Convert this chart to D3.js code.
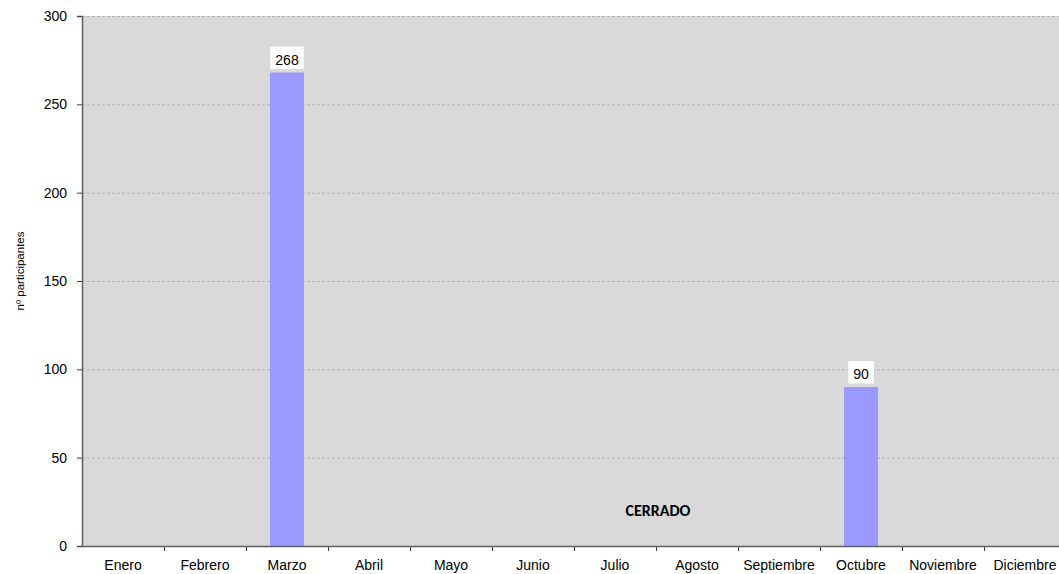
<!DOCTYPE html>
<html>
<head>
<meta charset="utf-8">
<script src="https://cdn.jsdelivr.net/npm/d3@7"></script>
<style>
  html, body { margin: 0; padding: 0; background: #fff; }
  svg { display: block; font-family: "Liberation Sans", Arial, sans-serif; }
</style>
</head>
<body>
<div id="chart"></div>
<script>
const months = ['Enero','Febrero','Marzo','Abril','Mayo','Junio','Julio','Agosto','Septiembre','Octubre','Noviembre','Diciembre'];
const participants = [null, null, 268, null, null, null, null, null, null, 90, null, null];
const yTicks = [0, 50, 100, 150, 200, 250, 300];
const yLabel = 'nº participantes';
const closedLabel = 'CERRADO';
const closedAt = 'Agosto';

const W = 1059, H = 574;
const PAD_L = 82, PAD_T = 16, PAD_B = 546;
const step = 82;
const FONT = '"Liberation Sans", Arial, sans-serif';

const svg = d3.select('#chart').append('svg')
  .attr('width', W).attr('height', H);

const x = d3.scaleBand()
  .domain(months)
  .range([PAD_L, PAD_L + step * months.length]);

const y = d3.scaleLinear().domain([0, 300]).range([PAD_B, PAD_T]);

// plot background
svg.append('rect')
  .attr('x', PAD_L).attr('y', PAD_T)
  .attr('width', W - PAD_L).attr('height', PAD_B - PAD_T)
  .attr('fill', '#d9d9d9');

// gridlines
svg.append('g').selectAll('line')
  .data(yTicks.filter(d => d > 0))
  .join('line')
  .attr('x1', PAD_L).attr('x2', W)
  .attr('y1', d => y(d) + 0.5).attr('y2', d => y(d) + 0.5)
  .attr('stroke', '#b4b4b4')
  .attr('stroke-dasharray', '3,2');

// bars
const barW = 34;
const data = months.map((m, i) => ({ m, v: participants[i] })).filter(d => d.v != null);

svg.append('g').selectAll('rect')
  .data(data)
  .join('rect')
  .attr('x', d => x(d.m) + x.bandwidth() / 2 - barW / 2)
  .attr('y', d => y(d.v))
  .attr('width', barW)
  .attr('height', d => PAD_B - y(d.v))
  .attr('fill', '#9999ff');

// value labels with white boxes
const lbl = svg.append('g').selectAll('g')
  .data(data)
  .join('g')
  .attr('transform', d => `translate(${x(d.m) + x.bandwidth() / 2},${y(d.v) - 3.5})`);

lbl.append('text')
  .attr('text-anchor', 'middle')
  .attr('y', -4.5)
  .attr('font-size', 14)
  .attr('fill', '#000')
  .text(d => d.v);

lbl.each(function () {
  const g = d3.select(this);
  const bb = g.select('text').node().getBBox();
  g.insert('rect', 'text')
    .attr('x', bb.x - 5).attr('y', -22.5)
    .attr('width', bb.width + 10).attr('height', 22.5)
    .attr('fill', '#fff');
});

// x axis labels
const xAxis = svg.append('g')
  .attr('transform', `translate(0,${PAD_B})`)
  .call(d3.axisBottom(x).tickSize(0).tickPadding(14));
xAxis.select('.domain').remove();
xAxis.selectAll('text').attr('font-size', 14).attr('fill', '#000').attr('font-family', FONT);

// bottom tick marks at band boundaries
const bounds = months.slice(1).map(m => x(m)).concat([PAD_L + step * months.length]);
svg.append('g').selectAll('line')
  .data(bounds)
  .join('line')
  .attr('x1', d => d + 0.5).attr('x2', d => d + 0.5)
  .attr('y1', PAD_B).attr('y2', PAD_B + 5)
  .attr('stroke', '#404040');

svg.append('line')
  .attr('x1', PAD_L).attr('x2', W)
  .attr('y1', PAD_B + 0.5).attr('y2', PAD_B + 0.5)
  .attr('stroke', '#606060').attr('stroke-width', 1.5);

const yAxis = svg.append('g')
  .attr('transform', `translate(${PAD_L},0)`)
  .call(d3.axisLeft(y).tickValues(yTicks).tickSize(5).tickPadding(10));
yAxis.select('.domain').attr('stroke', '#606060').attr('stroke-width', 1.5);
yAxis.selectAll('.tick line').attr('stroke', '#404040');
yAxis.selectAll('text').attr('font-size', 14).attr('fill', '#000').attr('font-family', FONT);

// y-axis title
svg.append('text')
  .attr('transform', `translate(24,271) rotate(-90)`)
  .attr('text-anchor', 'middle')
  .attr('font-size', 11.5)
  .attr('fill', '#000')
  .text(yLabel);

// closed annotation
svg.append('text')
  .attr('x', x(closedAt) + 2)
  .attr('y', 516)
  .attr('text-anchor', 'middle')
  .attr('font-family', 'Carlito, "Open Sans", sans-serif')
  .attr('font-weight', 'bold')
  .attr('font-size', 16)
  .attr('fill', '#000')
  .text(closedLabel);
</script>
</body>
</html>
